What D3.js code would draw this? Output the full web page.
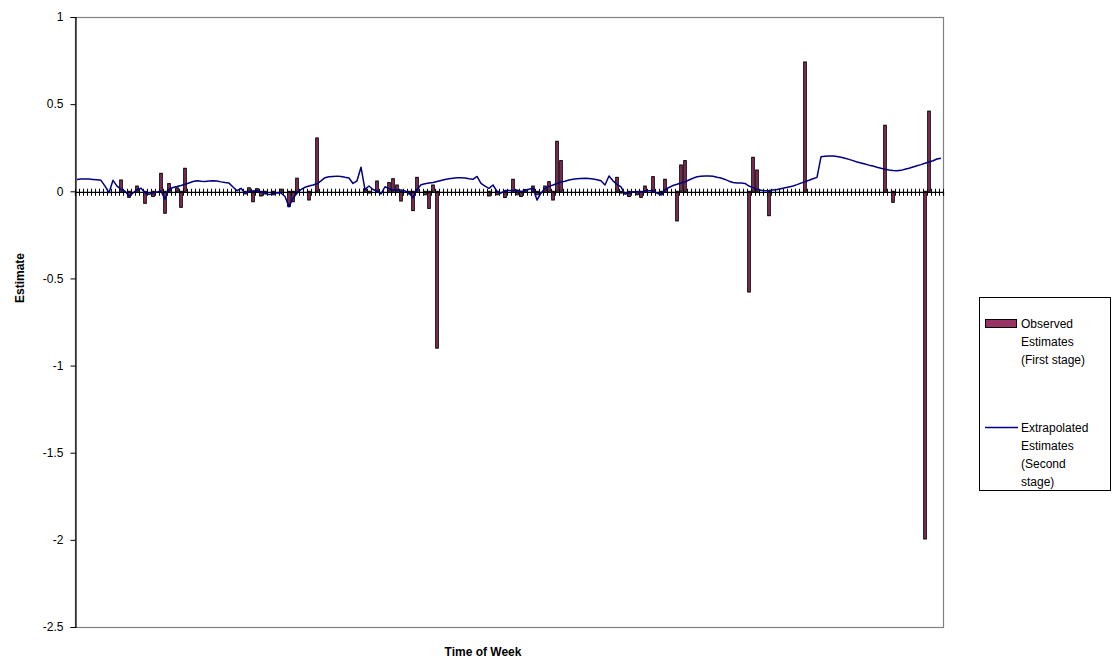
<!DOCTYPE html>
<html>
<head>
<meta charset="utf-8">
<script src="https://cdn.jsdelivr.net/npm/d3@7/dist/d3.min.js"></script>
<style>
  body { margin: 0; background: #fff; }
  svg text { font-family: "Liberation Sans", Arial, sans-serif; fill: #000; }
</style>
</head>
<body>
<svg id="chart" width="1112" height="665"></svg>
<script>
// 7 days x 31 slots on the category axis
var nCategories = 217;

// observed estimates (first stage), only where a value exists
var barIndex = [11, 13, 15, 17, 19, 21, 22, 23, 25, 26, 27,
    42, 43, 44, 45, 46, 47, 49, 51, 53, 54, 55, 58, 60,
    72, 73, 75, 78, 79, 80, 81, 83, 84, 85, 87, 88, 89, 90,
    103, 105, 107, 109, 110, 111, 112, 114, 115, 117, 118, 119, 120, 121,
    135, 136, 138, 140, 141, 142, 144, 146, 147, 150, 151, 152,
    168, 169, 170, 173, 182,
    202, 204, 212, 213];
var barValues = [0.065, -0.035, 0.030, -0.069, -0.030, 0.103, -0.126, 0.044, 0.020, -0.092, 0.132,
    -0.015, 0.020, -0.060, 0.015, -0.027, -0.015, -0.020, 0.012, -0.088, -0.060, 0.075, -0.050, 0.306,
    0.015, -0.010, 0.059, 0.050, 0.072, 0.036, -0.056, -0.015, -0.111, 0.080, -0.020, -0.098, 0.036, -0.900,
    -0.027, -0.020, -0.036, 0.069, -0.020, -0.030, 0.010, 0.030, -0.020, 0.030, 0.055, -0.050, 0.287, 0.176,
    0.080, -0.010, -0.030, -0.020, -0.035, 0.030, 0.084, -0.020, 0.069, -0.170, 0.151, 0.176,
    -0.578, 0.195, 0.122, -0.140, 0.742,
    0.379, -0.063, -1.995, 0.460];

// extrapolated estimates (second stage), one per category
var lineValues = [
    0.068, 0.070, 0.071, 0.070, 0.068, 0.066, 0.063, 0.030, -0.008, 0.063,
    0.030, 0.012, 0.000, -0.027, -0.010, 0.010, 0.017, -0.008, -0.017, -0.010,
    -0.004, 0.000, -0.046, 0.012, 0.022, 0.027, 0.033, 0.040, 0.048, 0.056,
    0.061, 0.057, 0.056, 0.059, 0.061, 0.059, 0.054, 0.050, 0.047, 0.025,
    0.003, 0.017, -0.011, -0.004, 0.002, 0.004, -0.004, -0.011, -0.019, -0.012,
    -0.009, -0.010, -0.030, -0.088, -0.040, -0.011, 0.010, 0.023, 0.030, 0.036,
    0.043, 0.060, 0.078, 0.083, 0.085, 0.087, 0.085, 0.080, 0.076, 0.045,
    0.060, 0.138, 0.010, 0.030, 0.010, 0.002, -0.015, 0.026, 0.015, 0.008,
    0.007, 0.007, 0.002, -0.010, -0.037, 0.010, 0.038, 0.043, 0.047, 0.050,
    0.056, 0.062, 0.068, 0.072, 0.075, 0.077, 0.078, 0.076, 0.072, 0.069,
    0.085, 0.046, 0.030, 0.017, 0.036, 0.000, -0.011, 0.004, 0.004, 0.005,
    0.007, -0.002, 0.004, 0.012, 0.017, -0.050, -0.011, 0.017, 0.028, 0.036,
    0.045, 0.053, 0.058, 0.065, 0.069, 0.072, 0.074, 0.075, 0.073, 0.070,
    0.066, 0.060, 0.036, 0.088, 0.060, 0.040, 0.025, -0.017, -0.010, -0.002,
    -0.006, -0.006, 0.002, 0.003, 0.004, -0.010, -0.021, 0.011, 0.022, 0.033,
    0.040, 0.048, 0.055, 0.065, 0.075, 0.083, 0.086, 0.088, 0.088, 0.086,
    0.080, 0.076, 0.068, 0.058, 0.050, 0.048, 0.047, 0.045, 0.030, 0.021,
    0.012, 0.006, 0.003, 0.004, 0.007, 0.010, 0.015, 0.020, 0.025, 0.030,
    0.038, 0.047, 0.055, 0.063, 0.072, 0.080, 0.198, 0.201, 0.203, 0.203,
    0.200, 0.195, 0.190, 0.183, 0.176, 0.168, 0.162, 0.156, 0.150, 0.145,
    0.138, 0.132, 0.127, 0.122, 0.119, 0.118, 0.120, 0.126, 0.132, 0.139,
    0.146, 0.153, 0.161, 0.168, 0.175, 0.185, 0.190];

var yTicks = [1, 0.5, 0, -0.5, -1, -1.5, -2, -2.5];
var legendLabels = [["Observed", "Estimates", "(First stage)"],
    ["Extrapolated", "Estimates", "(Second", "stage)"]];

var barColor = "#993366";
var lineColor = "#000080";

var plot = { left: 75, right: 943, top: 17, bottom: 627 };

var svg = d3.select("#chart");

var categories = d3.range(nCategories);
var x = d3.scaleBand()
    .domain(categories)
    .range([plot.left, plot.right]);
// boundaries between categories, for the tick marks
var xEdge = d3.scaleLinear()
    .domain([0, nCategories])
    .range([plot.left, plot.right]);

var y = d3.scaleLinear()
    .domain([-2.5, 1])
    .range([plot.bottom, plot.top]);

// plot frame (grey), left side is the value axis
svg.append("rect")
    .attr("x", plot.left + 0.5)
    .attr("y", plot.top + 0.5)
    .attr("width", plot.right - plot.left)
    .attr("height", plot.bottom - plot.top)
    .attr("fill", "none")
    .attr("stroke", "#808080")
    .attr("stroke-width", 1.2);

// y axis
var yAxis = svg.append("g")
    .attr("transform", "translate(" + (plot.left + 0.5) + ",0)")
    .call(d3.axisLeft(y).tickValues(yTicks).tickSize(5).tickPadding(7)
        .tickFormat(function(d) { return String(d); }));
yAxis.select(".domain").attr("stroke", "#000").attr("stroke-width", 1.2);
yAxis.selectAll(".tick line").attr("stroke", "#000");
yAxis.selectAll("text").attr("font-size", 12);

// bars
var bars = barIndex.map(function(d, i) { return { i: d, v: barValues[i] }; });
var barW = 2.6;
svg.append("g").selectAll("rect")
    .data(bars)
    .enter().append("rect")
    .attr("x", function(d) { return x(d.i) + x.bandwidth() / 2 - barW / 2; })
    .attr("y", function(d) { return Math.min(y(d.v), y(0)); })
    .attr("width", barW)
    .attr("height", function(d) { return Math.abs(y(d.v) - y(0)); })
    .attr("fill", barColor)
    .attr("stroke", "#000")
    .attr("stroke-width", 1);

// category axis crossing at zero, tick marks cross the line
var xAxis = svg.append("g")
    .attr("transform", "translate(0," + (y(0) + 0.5) + ")")
    .call(d3.axisBottom(xEdge).tickValues(d3.range(nCategories + 1)).tickSize(4).tickFormat(""));
xAxis.select(".domain").attr("stroke", "#000").attr("stroke-width", 1.2);
xAxis.selectAll(".tick line").attr("stroke", "#000").attr("y1", -3).attr("stroke-width", 1);

// line
var line = d3.line()
    .x(function(d, i) { return x(i) + x.bandwidth() / 2; })
    .y(function(d) { return y(d); });
svg.append("path")
    .datum(lineValues)
    .attr("d", line)
    .attr("fill", "none")
    .attr("stroke", lineColor)
    .attr("stroke-width", 1.5)
    .attr("stroke-linejoin", "round");

// axis titles
svg.append("text")
    .attr("transform", "translate(24,278) rotate(-90)")
    .attr("text-anchor", "middle")
    .attr("font-size", 12)
    .attr("font-weight", "bold")
    .text("Estimate");
svg.append("text")
    .attr("x", 483)
    .attr("y", 656)
    .attr("text-anchor", "middle")
    .attr("font-size", 12)
    .attr("font-weight", "bold")
    .text("Time of Week");

// legend
var legend = svg.append("g");
legend.append("rect")
    .attr("x", 979.5).attr("y", 297.5)
    .attr("width", 131).attr("height", 193)
    .attr("fill", "#fff").attr("stroke", "#000");
legend.append("rect")
    .attr("x", 985.5).attr("y", 319.5)
    .attr("width", 31).attr("height", 8)
    .attr("fill", barColor).attr("stroke", "#000");
legend.append("line")
    .attr("x1", 985).attr("x2", 1018)
    .attr("y1", 427.5).attr("y2", 427.5)
    .attr("stroke", lineColor).attr("stroke-width", 1.5);
var legendTop = [328, 432];
legendLabels.forEach(function(lines, k) {
    legend.append("g").selectAll("text")
        .data(lines)
        .enter().append("text")
        .attr("x", 1021)
        .attr("y", function(d, j) { return legendTop[k] + j * 18; })
        .attr("font-size", 12)
        .text(function(d) { return d; });
});
</script>
</body>
</html>
